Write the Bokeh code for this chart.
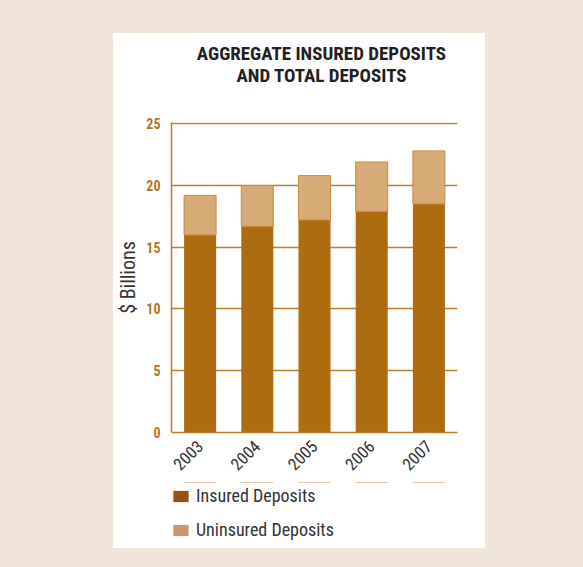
from bokeh.plotting import figure
from bokeh.models import Range1d, FactorRange, Legend, LegendItem, ColumnDataSource, Div
from bokeh.layouts import column
from bokeh.embed import file_html
from bokeh.resources import INLINE
import math

years = ["2003", "2004", "2005", "2006", "2007"]
insured = [16.0, 16.7, 17.2, 17.9, 18.5]
uninsured = [3.2, 3.3, 3.6, 4.0, 4.3]
y_ticks = [0, 5, 10, 15, 20, 25]
series_labels = ["Insured Deposits", "Uninsured Deposits"]
title_lines = ["AGGREGATE INSURED DEPOSITS", "AND TOTAL DEPOSITS"]

FONT = "'Roboto Condensed', 'Liberation Sans Narrow', 'DejaVu Sans Condensed', Roboto, sans-serif"
GOLD = "#bd7e2a"
C_INS = "#ad6c10"
C_UNI = "#d7aa77"
TXT = "#333333"
BG = "#f1e4d8"

src = ColumnDataSource(dict(years=years, insured=insured, uninsured=uninsured))

# title block
title_div = Div(
    text=('<div style="width:372px;box-sizing:border-box;padding-top:10px;padding-left:45px;'
          'text-align:center;font-family:' + FONT.replace("'", "&quot;") +
          ';font-weight:bold;font-size:19px;line-height:22px;color:#231f20;">' +
          "<br>".join(title_lines) + '</div>'),
    width=372, height=81, styles={"background-color": "white"})

p = figure(x_range=years, y_range=Range1d(0, 25.1), width=372, height=368,
           output_backend="svg", toolbar_location=None,
           min_border_left=57, min_border_right=28, min_border_top=8, min_border_bottom=50,
           background_fill_color="white", border_fill_color="white", outline_line_color=None)
p.x_range.range_padding = 0

p.vbar_stack(["insured", "uninsured"], x="years", width=0.56, source=src,
             color=[C_INS, C_UNI], line_color=[None, "#c68c45"], line_width=1)

p.xgrid.grid_line_color = None
p.ygrid.grid_line_color = GOLD
p.ygrid.grid_line_width = 1.5
p.yaxis.ticker = y_ticks

for ax in (p.xaxis[0], p.yaxis[0]):
    ax.axis_line_color = GOLD
    ax.axis_line_width = 1.5
    ax.major_tick_line_color = None
    ax.minor_tick_line_color = None

p.yaxis.major_label_text_font = FONT
p.yaxis.major_label_text_font_style = "bold"
p.yaxis.major_label_text_font_size = "14px"
p.yaxis.major_label_text_color = "#b5741d"
p.yaxis.major_label_standoff = 5
p.yaxis.axis_label = "$ Billions"
p.yaxis.axis_label_text_font = FONT
p.yaxis.axis_label_text_font_style = "normal"
p.yaxis.axis_label_text_font_size = "20px"
p.yaxis.axis_label_text_color = TXT
p.yaxis.axis_label_standoff = 3

p.xaxis.major_label_orientation = math.pi / 4
p.xaxis.major_label_text_font = FONT
p.xaxis.major_label_text_font_size = "17px"
p.xaxis.major_label_text_color = TXT
p.xaxis.major_label_standoff = 5

# legend in its own small figure below the chart (its bars lie far outside the view)
p2 = figure(x_range=FactorRange(*years), y_range=Range1d(-1001, -1000), width=372, height=66,
            output_backend="svg", toolbar_location=None,
            min_border=0, x_axis_location=None, y_axis_location=None,
            background_fill_color="white", border_fill_color="white", outline_line_color=None)
p2.grid.grid_line_color = None
lr = p2.vbar_stack(["insured", "uninsured"], x="years", width=0.56, source=src,
                   color=["#9a4f13", "#c9966f"], line_color=None)
legend = Legend(items=[LegendItem(label=series_labels[0], renderers=[lr[0]]),
                       LegendItem(label=series_labels[1], renderers=[lr[1]])],
                location=(0, 8), orientation="vertical",
                glyph_width=19, glyph_height=14, label_height=20, label_text_font=FONT,
                label_text_font_size="18px", label_text_color=TXT,
                label_standoff=6, spacing=13, padding=0, margin=0,
                border_line_color=None, background_fill_alpha=0)
p2.add_layout(legend, "center")

title_div.margin = (33, 98, 0, 113)
p.margin = (0, 98, 0, 113)
p2.margin = (0, 98, 19, 113)
p.styles = {"background-color": "white"}
p2.styles = {"background-color": "white"}
layout = column(title_div, p, p2, spacing=0, styles={"background-color": BG})

open("out.html", "w").write(file_html(layout, INLINE))
